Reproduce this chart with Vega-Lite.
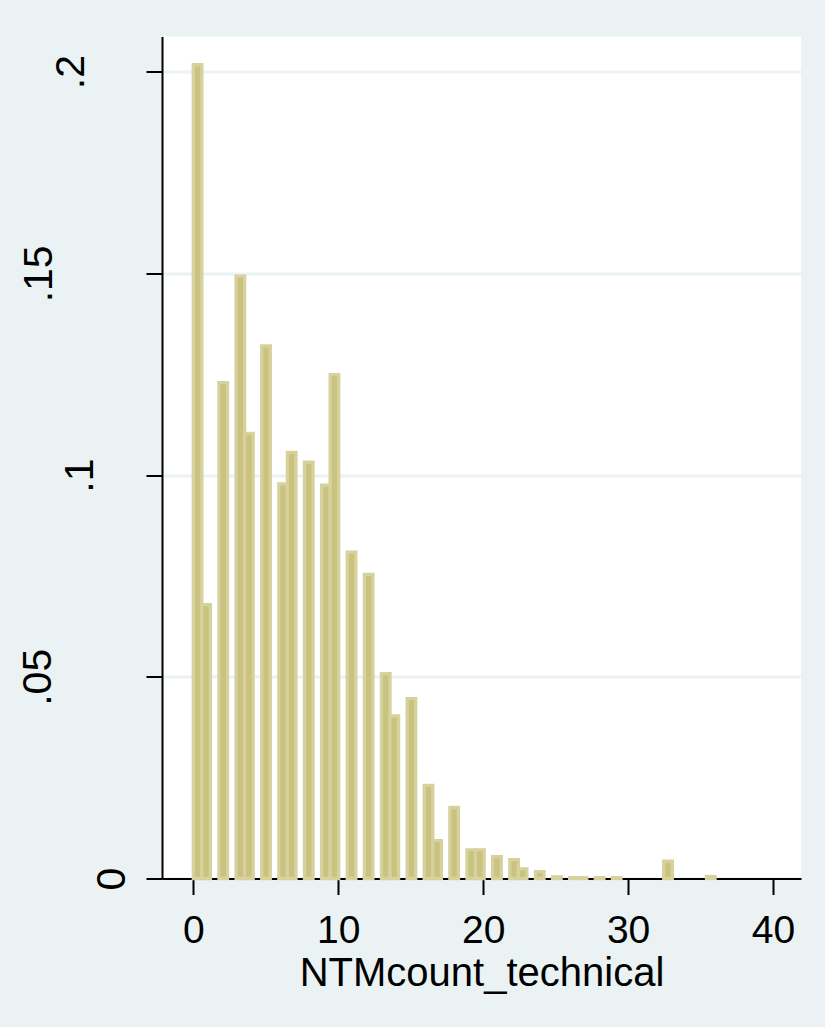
{
  "$schema": "https://vega.github.io/schema/vega-lite/v6.json",
  "width": 639,
  "height": 842,
  "autosize": {"type": "none"},
  "padding": {"left": 162, "top": 36.5, "right": 24, "bottom": 148.5},
  "background": "#eaf2f3",
  "config": {"view": {"fill": "white", "stroke": null}, "font": "Liberation Sans"},
  "data": {
    "values": [
      {"NTMcount_technical": 0, "bin_start": 0.000, "bin_end": 0.590, "density": 0.2017},
      {"NTMcount_technical": 1, "bin_start": 0.590, "bin_end": 1.180, "density": 0.0679},
      {"NTMcount_technical": 2, "bin_start": 1.770, "bin_end": 2.361, "density": 0.1229},
      {"NTMcount_technical": 3, "bin_start": 2.951, "bin_end": 3.541, "density": 0.1493},
      {"NTMcount_technical": 4, "bin_start": 3.541, "bin_end": 4.131, "density": 0.1103},
      {"NTMcount_technical": 5, "bin_start": 4.721, "bin_end": 5.311, "density": 0.1320},
      {"NTMcount_technical": 6, "bin_start": 5.902, "bin_end": 6.492, "density": 0.0978},
      {"NTMcount_technical": 7, "bin_start": 6.492, "bin_end": 7.082, "density": 0.1056},
      {"NTMcount_technical": 8, "bin_start": 7.672, "bin_end": 8.262, "density": 0.1032},
      {"NTMcount_technical": 9, "bin_start": 8.852, "bin_end": 9.443, "density": 0.0975},
      {"NTMcount_technical": 10, "bin_start": 9.443, "bin_end": 10.033, "density": 0.1249},
      {"NTMcount_technical": 11, "bin_start": 10.623, "bin_end": 11.213, "density": 0.0809},
      {"NTMcount_technical": 12, "bin_start": 11.803, "bin_end": 12.393, "density": 0.0754},
      {"NTMcount_technical": 13, "bin_start": 12.984, "bin_end": 13.574, "density": 0.0508},
      {"NTMcount_technical": 14, "bin_start": 13.574, "bin_end": 14.164, "density": 0.0403},
      {"NTMcount_technical": 15, "bin_start": 14.754, "bin_end": 15.344, "density": 0.0446},
      {"NTMcount_technical": 16, "bin_start": 15.934, "bin_end": 16.525, "density": 0.0231},
      {"NTMcount_technical": 17, "bin_start": 16.525, "bin_end": 17.115, "density": 0.0094},
      {"NTMcount_technical": 18, "bin_start": 17.705, "bin_end": 18.295, "density": 0.0176},
      {"NTMcount_technical": 19, "bin_start": 18.885, "bin_end": 19.475, "density": 0.0071},
      {"NTMcount_technical": 20, "bin_start": 19.475, "bin_end": 20.066, "density": 0.0071},
      {"NTMcount_technical": 21, "bin_start": 20.656, "bin_end": 21.246, "density": 0.0054},
      {"NTMcount_technical": 22, "bin_start": 21.836, "bin_end": 22.426, "density": 0.0047},
      {"NTMcount_technical": 23, "bin_start": 22.426, "bin_end": 23.016, "density": 0.0024},
      {"NTMcount_technical": 24, "bin_start": 23.607, "bin_end": 24.197, "density": 0.0017},
      {"NTMcount_technical": 25, "bin_start": 24.787, "bin_end": 25.377, "density": 0.0004},
      {"NTMcount_technical": 26, "bin_start": 25.967, "bin_end": 26.557, "density": 0.0002},
      {"NTMcount_technical": 27, "bin_start": 26.557, "bin_end": 27.148, "density": 0.0002},
      {"NTMcount_technical": 28, "bin_start": 27.738, "bin_end": 28.328, "density": 0.0002},
      {"NTMcount_technical": 29, "bin_start": 28.918, "bin_end": 29.508, "density": 0.0002},
      {"NTMcount_technical": 33, "bin_start": 32.459, "bin_end": 33.049, "density": 0.0043},
      {"NTMcount_technical": 36, "bin_start": 35.410, "bin_end": 36.000, "density": 0.0005}
    ]
  },
  "mark": {"type": "bar", "fill": "#cac27f", "stroke": "#d7d19d", "strokeWidth": 3.3},
  "encoding": {
    "x": {
      "field": "bin_start",
      "type": "quantitative",
      "scale": {"domain": [-2.16, 41.93], "nice": false, "zero": false},
      "axis": {
        "title": "NTMcount_technical",
        "values": [0, 10, 20, 30, 40],
        "grid": false,
        "tickSize": 16,
        "tickWidth": 2,
        "tickColor": "black",
        "domainColor": "black",
        "domainWidth": 2,
        "labelFontSize": 39,
        "labelColor": "black",
        "labelPadding": 17,
        "labelAngle": 0,
        "labelFlush": false,
        "labelOverlap": false,
        "titleFontSize": 40,
        "titleFontWeight": "normal",
        "titleColor": "black",
        "titlePadding": 3
      }
    },
    "x2": {"field": "bin_end"},
    "y": {
      "field": "density",
      "type": "quantitative",
      "scale": {"domain": [0, 0.2087], "nice": false},
      "axis": {
        "title": null,
        "values": [0, 0.05, 0.1, 0.15, 0.2],
        "grid": true,
        "gridColor": "#eaf2f3",
        "gridWidth": 3,
        "tickSize": 16,
        "tickWidth": 2,
        "tickColor": "black",
        "domainColor": "black",
        "domainWidth": 2,
        "labelAngle": -90,
        "labelAlign": "center",
        "labelBaseline": "alphabetic",
        "labelFontSize": 41,
        "labelColor": "black",
        "labelFlush": false,
        "labelOverlap": false,
        "labelExpr": "datum.value == 0 ? '0' : replace(format(datum.value, '.2~f'), '0.', '.')",
        "labelPadding": {
          "condition": [
            {"test": "datum.value == 0", "value": 22},
            {"test": "datum.value == 0.05", "value": 96},
            {"test": "datum.value == 0.1", "value": 54},
            {"test": "datum.value == 0.15", "value": 95}
          ],
          "value": 63
        }
      }
    },
    "y2": {"datum": 0}
  }
}
